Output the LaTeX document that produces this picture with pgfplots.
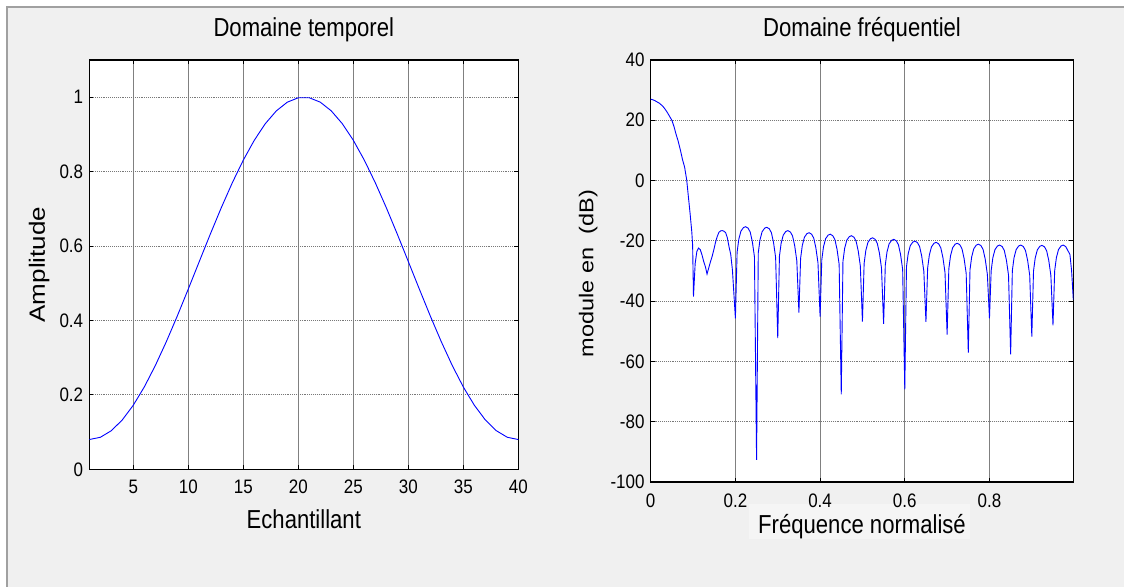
\documentclass[border=0pt]{standalone}
\usepackage{pgfplots}
\pgfplotsset{compat=1.18}
\usepackage{fontspec}
\setmainfont{Liberation Sans}[FakeStretch=0.85]
\newfontfamily\plainsans{Liberation Sans}
\newfontfamily\tickfont{Liberation Sans}[FakeStretch=0.87]

\definecolor{panel}{RGB}{240,240,240}
\definecolor{paneledge}{RGB}{160,160,160}
\definecolor{labelbox}{RGB}{248,248,248}
\definecolor{trace}{RGB}{0,0,255}
\definecolor{vgrid}{RGB}{128,128,128}
\definecolor{hgrid}{RGB}{120,120,120}

% MATLAB-like figure axes
\pgfplotsset{
  matlab/.style={
    scale only axis,
    axis line style={line width=1.3bp,black},
    tick align=inside,
    major tick length=4bp,
    tick style={line width=1bp,black},
    grid=major,
    x grid style={vgrid,line width=0.7bp},
    y grid style={hgrid,line width=0.9bp,densely dotted},
    axis background/.style={fill=white},
    /pgf/number format/assume math mode=true,
    ticklabel style={font=\fontsize{19.5bp}{21bp}\tickfont},
    xticklabel style={anchor=base,inner sep=0pt},
    yticklabel style={anchor=east,inner sep=0pt,xshift=-6bp},
    title style={font=\fontsize{26bp}{28bp}\selectfont,anchor=base,inner sep=0pt},
    xlabel style={font=\fontsize{26bp}{28bp}\selectfont,anchor=base,inner sep=0pt},
    ylabel style={anchor=center,inner sep=0pt},
  }
}

\begin{document}
\begin{tikzpicture}[x=1bp,y=1bp]
\path[use as bounding box] (0,0) rectangle (1124,587);
\fill[white] (0,0) rectangle (1124,587);
\fill[panel] (7,0) rectangle (1124,580);
\draw[paneledge,line width=1.5bp] (7,0) -- (7,580) -- (1124,580);

% Hamming window, 40 samples
\begin{axis}[matlab,
  at={(89.3bp,117.7bp)}, anchor=south west,
  width=429bp, height=409.3bp,
  xmin=1, xmax=40, ymin=0, ymax=1.1,
  xtick={5,10,...,40},
  ytick={0,0.2,0.4,0.6,0.8,1},
  xticklabel style={yshift=-24.7bp},
  title={Domaine temporel},
  title style={at={(axis description cs:0.5,1.0423)}},
  xlabel={Echantillant},
  xlabel style={at={(axis description cs:0.5,-0.1441)}},
  ylabel={\scalebox{1}[0.85]{\fontsize{26bp}{28bp}\plainsans Amplitude}},
  ylabel style={at={(axis description cs:-0.117,0.5)}},
]
\addplot[trace,line width=0.9bp] coordinates {
 (1,0.0800) (2,0.0860) (3,0.1037) (4,0.1327) (5,0.1723)
 (6,0.2213) (7,0.2787) (8,0.3428) (9,0.4120) (10,0.4846)
 (11,0.5585) (12,0.6320) (13,0.7031) (14,0.7700) (15,0.8309)
 (16,0.8843) (17,0.9288) (18,0.9632) (19,0.9866) (20,0.9985)
 (21,0.9985) (22,0.9866) (23,0.9632) (24,0.9288) (25,0.8843)
 (26,0.8309) (27,0.7700) (28,0.7031) (29,0.6320) (30,0.5585)
 (31,0.4846) (32,0.4120) (33,0.3428) (34,0.2787) (35,0.2213)
 (36,0.1723) (37,0.1327) (38,0.1037) (39,0.0860) (40,0.0800)
};
\end{axis}

% pale backdrop behind the frequency axis label
\fill[labelbox,opacity=0.75] (749,48) rectangle (970,83);

% magnitude spectrum in dB
\begin{axis}[matlab,
  at={(650.7bp,105bp)}, anchor=south west,
  width=422.6bp, height=422bp,
  xmin=0, xmax=0.998, ymin=-100, ymax=40,
  xtick={0,0.2,0.4,0.6,0.8},
  ytick={-100,-80,-60,-40,-20,0,20,40},
  xticklabel style={yshift=-25.8bp},
  title={Domaine fréquentiel},
  title style={at={(axis description cs:0.5,1.041)}},
  xlabel={Fréquence normalisé},
  xlabel style={at={(axis description cs:0.5,-0.1209)}},
  ylabel={\scalebox{1}[0.85]{\fontsize{23.5bp}{25bp}\plainsans module en\ \ (dB)}},
  ylabel style={at={(axis description cs:-0.148,0.494)}},
]
\addplot[trace,line width=0.9bp] table[x=f,y=db] {
f db
0.000 27.0
0.005 26.8
0.010 26.5
0.015 26.1
0.020 25.7
0.025 25.1
0.030 24.4
0.035 23.5
0.040 22.4
0.045 21.2
0.050 20.0
0.055 17.9
0.060 15.3
0.065 13.0
0.070 10.2
0.075 7.0
0.080 4.5
0.085 0.2
0.089 -5.4
0.093 -10.9
0.097 -17.0
0.099 -21.5
0.101 -38.5
0.105 -27.5
0.109 -23.5
0.113 -22.4
0.117 -22.9
0.121 -24.6
0.125 -26.8
0.129 -28.5
0.133 -31.0
0.137 -29.0
0.141 -27.0
0.145 -25.2
0.149 -23.0
0.153 -20.5
0.157 -18.6
0.161 -17.2
0.165 -16.7
0.169 -16.6
0.173 -16.8
0.177 -17.3
0.181 -19.0
0.185 -22.0
0.189 -24.5
0.193 -29.7
0.200 -45.7
0.204 -23.8
0.208 -19.5
0.213 -16.8
0.219 -15.6
0.224 -15.3
0.230 -15.8
0.235 -17.1
0.240 -20.3
0.245 -25.3
0.250 -92.7
0.254 -24.0
0.258 -19.7
0.263 -17.0
0.269 -15.8
0.274 -15.5
0.280 -16.0
0.285 -17.3
0.290 -20.5
0.295 -25.5
0.300 -52.3
0.304 -25.1
0.308 -20.8
0.313 -18.1
0.319 -16.9
0.324 -16.6
0.330 -17.1
0.335 -18.4
0.340 -21.6
0.345 -26.6
0.350 -43.8
0.354 -25.8
0.358 -21.5
0.363 -18.8
0.369 -17.6
0.374 -17.3
0.380 -17.8
0.385 -19.1
0.390 -22.3
0.395 -27.3
0.400 -45.1
0.404 -26.3
0.408 -22.0
0.413 -19.3
0.419 -18.1
0.424 -17.8
0.430 -18.3
0.435 -19.6
0.440 -22.8
0.445 -27.8
0.450 -70.9
0.454 -26.8
0.458 -22.5
0.463 -19.8
0.469 -18.6
0.474 -18.3
0.480 -18.8
0.485 -20.1
0.490 -23.3
0.495 -28.3
0.500 -46.8
0.504 -27.5
0.508 -23.2
0.513 -20.5
0.519 -19.3
0.524 -19.0
0.530 -19.5
0.535 -20.8
0.540 -24.0
0.545 -29.0
0.550 -47.5
0.554 -28.0
0.558 -23.7
0.563 -21.0
0.569 -19.8
0.574 -19.5
0.580 -20.0
0.585 -21.3
0.590 -24.5
0.595 -29.5
0.600 -69.3
0.604 -28.6
0.608 -24.3
0.613 -21.6
0.619 -20.4
0.624 -20.1
0.630 -20.6
0.635 -21.9
0.640 -25.1
0.645 -30.1
0.650 -46.9
0.654 -29.0
0.658 -24.7
0.663 -22.0
0.669 -20.8
0.674 -20.5
0.680 -21.0
0.685 -22.3
0.690 -25.5
0.695 -30.5
0.700 -51.1
0.704 -29.3
0.708 -25.0
0.713 -22.3
0.719 -21.1
0.724 -20.8
0.730 -21.3
0.735 -22.6
0.740 -25.8
0.745 -30.8
0.750 -57.1
0.754 -29.6
0.758 -25.3
0.763 -22.6
0.769 -21.4
0.774 -21.1
0.780 -21.6
0.785 -22.9
0.790 -26.1
0.795 -31.1
0.800 -45.7
0.804 -29.9
0.808 -25.6
0.813 -22.9
0.819 -21.7
0.824 -21.4
0.830 -21.9
0.835 -23.2
0.840 -26.4
0.845 -31.4
0.850 -57.7
0.854 -29.9
0.858 -25.6
0.863 -22.9
0.869 -21.7
0.874 -21.4
0.880 -21.9
0.885 -23.2
0.890 -26.4
0.895 -31.4
0.900 -51.8
0.904 -30.0
0.908 -25.7
0.913 -23.0
0.919 -21.8
0.924 -21.5
0.930 -22.0
0.935 -23.3
0.940 -26.5
0.945 -31.5
0.950 -48.0
0.954 -29.9
0.958 -25.6
0.963 -22.9
0.969 -21.7
0.974 -21.4
0.980 -21.9
0.985 -23.2
0.990 -24.5
0.994 -30.0
0.998 -39.6
};
\end{axis}
\end{tikzpicture}
\end{document}
